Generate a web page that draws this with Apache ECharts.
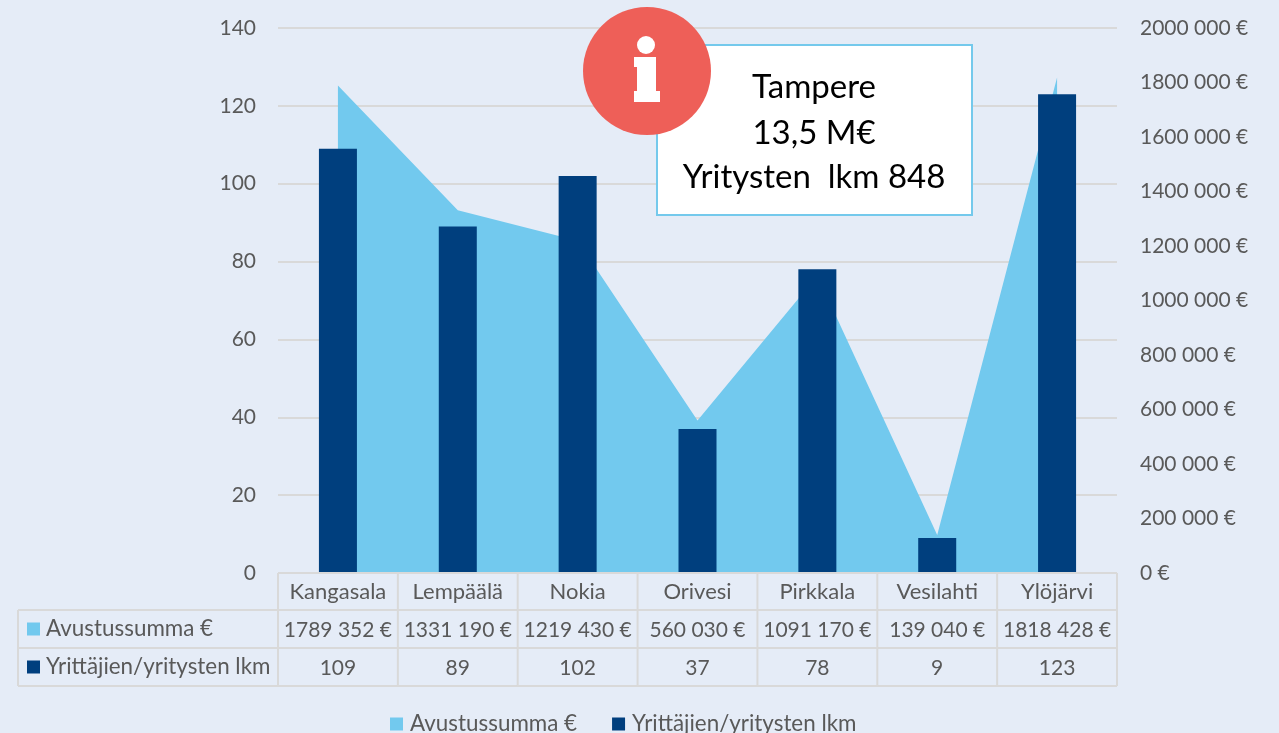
<!DOCTYPE html>
<html><head><meta charset="utf-8">
<style>html,body{margin:0;padding:0;background:#E5ECF7;overflow:hidden}#c{width:1279px;height:733px}</style>
<script src="https://cdn.jsdelivr.net/npm/echarts@6/dist/echarts.min.js"></script>
</head><body><div id="c"></div>
<script>
var categories=['Kangasala','Lempäälä','Nokia','Orivesi','Pirkkala','Vesilahti','Ylöjärvi'];
var grantValues=[1789352,1331190,1219430,560030,1091170,139040,1818428];
var grantLabels=['1789 352 €','1331 190 €','1219 430 €','560 030 €','1091 170 €','139 040 €','1818 428 €'];
var companyValues=[109,89,102,37,78,9,123];
var grantName='Avustussumma €';
var companyName='Yrittäjien/yritysten lkm';
var calloutLines=['Tampere','13,5 M€','Yritysten  lkm 848'];

var FONT='Lato, "Open Sans", sans-serif', TXT='#595959', LINE='#D9D9D9';
var L=278,R=1117,T=28,B=573,TL=18,ROW=[610,648,686];
var chart=echarts.init(document.getElementById('c'),null,{renderer:'canvas'});
function fmtEuro(v){
  if(v===0) return '0 €';
  var s=String(v), tail=s.slice(-3), head=s.slice(0,-3);
  return head+' '+tail+' €';
}
var g=[];
function line(x1,y1,x2,y2){g.push({type:'line',silent:true,z:5,shape:{x1:x1,y1:y1,x2:x2,y2:y2},style:{stroke:LINE,lineWidth:2}});}
line(L,B,R,B);
ROW.forEach(function(y){line(TL,y,R,y);});
line(TL,ROW[0],TL,ROW[2]);
for(var i=0;i<=7;i++){line(L+(R-L)*i/7,B,L+(R-L)*i/7,ROW[2]);}
function rowHead(y,color,name){
  g.push({type:'rect',silent:true,z:6,shape:{x:27,y:y-6.5,width:13,height:13},style:{fill:color}});
  g.push({type:'text',silent:true,z:6,style:{x:46,y:y,text:name,font:'22.4px '+FONT,fill:TXT,textVerticalAlign:'middle'}});
}
rowHead(629,'#72C9EE',grantName);
rowHead(667,'#003F7E',companyName);
// callout
g.push({type:'rect',silent:true,z:10,shape:{x:657,y:45,width:315,height:170},style:{fill:'#fff',stroke:'#74C9EC',lineWidth:2}});
var ly=[87,133,177];
calloutLines.forEach(function(t,i){
  g.push({type:'text',silent:true,z:11,style:{x:814,y:ly[i],text:t,align:'center',verticalAlign:'middle',font:'33px '+FONT,fill:'#000'}});
});
g.push({type:'circle',silent:true,z:12,shape:{cx:647,cy:71,r:64},style:{fill:'#EE5F58'}});
g.push({type:'circle',silent:true,z:13,shape:{cx:646,cy:45,r:9},style:{fill:'#fff'}});
g.push({type:'polygon',silent:true,z:13,shape:{points:[[634,57],[656,57],[656,91],[660,91],[660,102],[634,102],[634,91],[637,91],[637,67],[634,67]]},style:{fill:'#fff'}});

chart.setOption({
  animation:false,
  backgroundColor:'#E5ECF7',
  textStyle:{fontFamily:FONT},
  grid:{left:L,right:1279-R,top:T,bottom:733-B,containLabel:false},
  legend:{left:385,top:708,itemWidth:13,itemHeight:13,itemGap:35,icon:'rect',
    textStyle:{fontSize:22.4,color:TXT,fontFamily:FONT,padding:[0,0,0,2]},
    data:[grantName,companyName]},
  xAxis:{type:'category',data:categories,boundaryGap:true,
    axisLine:{show:false},axisTick:{show:false},
    axisLabel:{interval:0,margin:0,color:TXT,fontSize:21,lineHeight:38,fontFamily:FONT,
      rich:{c:{fontSize:22,lineHeight:38,color:TXT,fontFamily:FONT},v:{fontSize:21,lineHeight:38,color:TXT,fontFamily:FONT}},
      formatter:function(v,i){return '{c|'+v+'}\n{v|'+grantLabels[i]+'}\n{v|'+companyValues[i]+'}';}}},
  yAxis:[
    {type:'value',min:0,max:140,interval:20,axisLine:{show:false},axisTick:{show:false},
     axisLabel:{margin:22,color:TXT,fontSize:21,fontFamily:FONT,padding:[2,0,0,0]},
     splitLine:{show:true,lineStyle:{color:LINE,width:2}}},
    {type:'value',min:0,max:2000000,interval:200000,position:'right',axisLine:{show:false},axisTick:{show:false},
     axisLabel:{margin:23,color:TXT,fontSize:21,fontFamily:FONT,padding:[2,0,0,0],formatter:fmtEuro},
     splitLine:{show:false}}
  ],
  series:[
    {name:grantName,type:'line',yAxisIndex:1,data:grantValues,showSymbol:false,symbol:'none',
     lineStyle:{width:0,color:'#72C9EE'},itemStyle:{color:'#72C9EE'},areaStyle:{color:'#72C9EE',opacity:1},z:2},
    {name:companyName,type:'bar',yAxisIndex:0,data:companyValues,barWidth:38,itemStyle:{color:'#003F7E'},z:3}
  ],
  graphic:g
});
</script></body></html>
